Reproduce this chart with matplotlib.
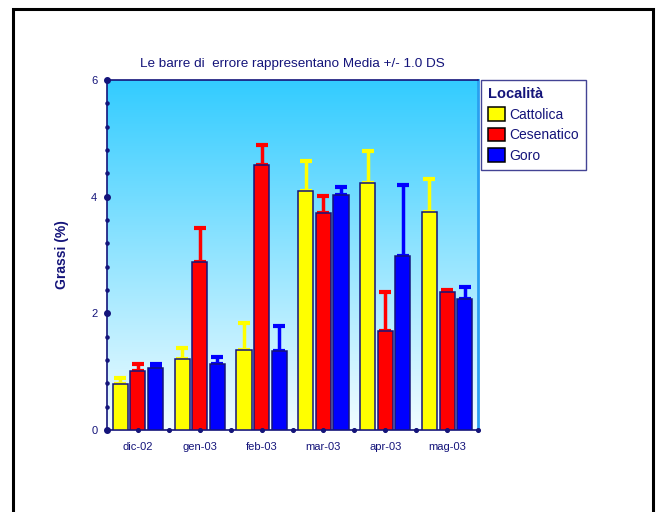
import numpy as np
import matplotlib
matplotlib.use('Agg')
import matplotlib.pyplot as plt
from matplotlib.patches import Rectangle

# Data
months     = ['dic-02', 'gen-03', 'feb-03', 'mar-03', 'apr-03', 'mag-03']
localities = ['Cattolica', 'Cesenatico', 'Goro']
cattolica  = [0.79, 1.21, 1.38, 4.09, 4.24, 3.73]
cesenatico = [1.02, 2.88, 4.55, 3.72, 1.70, 2.36]
goro       = [1.06, 1.13, 1.36, 4.03, 2.98, 2.24]
sd_catt    = [0.10, 0.20, 0.46, 0.52, 0.54, 0.57]
sd_cese    = [0.12, 0.58, 0.34, 0.29, 0.67, 0.04]
sd_goro    = [0.08, 0.13, 0.42, 0.13, 1.22, 0.22]

# Style
navy    = '#14147a'
palette = ['#ffff00', '#ff0000', '#0000ff']
font    = 'Liberation Sans'
plt.rcParams['font.family'] = [font, 'DejaVu Sans']

fig = plt.figure(figsize=(6.56, 5.12), dpi=100)

# outer black frame (bottom edge falls outside the image)
fig.patches.append(Rectangle((13/656, -0.05), 640/656, 1.05 - 9/512, transform=fig.transFigure,
                             fill=False, edgecolor='black', linewidth=2.2))

ax = fig.add_axes([107/656, 82/512, 371/656, 350/512])

# gradient background
grad = np.linspace(0, 1, 256).reshape(-1, 1)
top = np.array([0.20, 0.80, 1.00])
bot = np.array([0.95, 0.99, 1.00])
img = bot + (top - bot) * grad[..., None]
ax.imshow(img, extent=[0, 1, 0, 1], transform=ax.transAxes, aspect='auto',
          origin='lower', zorder=0)

x = np.arange(len(months))
w = 0.245
series = [cattolica, cesenatico, goro]
errors = [sd_catt, sd_cese, sd_goro]
handles = []
for i, (vals, err) in enumerate(zip(series, errors)):
    pos = x + (i - 1) * 0.285
    ax.errorbar(pos, vals, yerr=[np.zeros(len(vals)), err], fmt='none',
                ecolor=palette[i], elinewidth=2.5, capsize=4, capthick=3, zorder=2)
    b = ax.bar(pos, vals, width=w, color=palette[i], edgecolor=navy,
               linewidth=1.1, zorder=3, label=localities[i])
    handles.append(b)

ax.set_xlim(-0.5, len(months) - 0.5)
ax.set_ylim(0, 6)

# axis ticks drawn as dots
ax.set_yticks([0, 2, 4, 6])
ax.set_xticks(x)
ax.set_xticklabels(months)
ax.tick_params(length=0, labelsize=8, labelcolor=navy, pad=9)
ax.tick_params(axis='y', pad=7)
minor_y = np.arange(0, 6.01, 0.4)
ax.scatter(np.zeros(len(minor_y)), minor_y, s=5, color=navy, clip_on=False, zorder=5,
           transform=ax.get_yaxis_transform())
ax.scatter(np.zeros(4), [0, 2, 4, 6], s=16, color=navy, clip_on=False, zorder=5,
           transform=ax.get_yaxis_transform())
ax.scatter(np.arange(-0.5, 6.0, 0.5), np.zeros(13), s=7, color=navy, clip_on=False,
           zorder=5, transform=ax.get_xaxis_transform())

for side in ['left', 'bottom', 'top']:
    ax.spines[side].set_color(navy)
    ax.spines[side].set_linewidth(1.2)
ax.spines['right'].set_color('#2a9ff0')
ax.spines['right'].set_linewidth(2)

ax.set_ylabel('Grassi (%)', fontsize=10, fontweight='bold', color=navy, labelpad=16)
ax.set_title('Le barre di  errore rappresentano Media +/- 1.0 DS', fontsize=9.7,
             color=navy, pad=9)

leg = ax.legend(handles=handles, title='Località', loc='upper left',
                bbox_to_anchor=(1.008, 1.0), fontsize=10, frameon=True,
                fancybox=False, edgecolor=navy, borderpad=0.5, labelspacing=0.45,
                handlelength=1.25, handleheight=1.1, handletextpad=0.3, borderaxespad=0)
leg.get_title().set_fontweight('bold')
leg.get_title().set_color(navy)
leg.get_title().set_fontsize(10.5)
leg._legend_box.align = 'left'
for t in leg.get_texts():
    t.set_color(navy)
for p in leg.get_patches():
    p.set_edgecolor('black')

fig.savefig('out.png', dpi=100)
